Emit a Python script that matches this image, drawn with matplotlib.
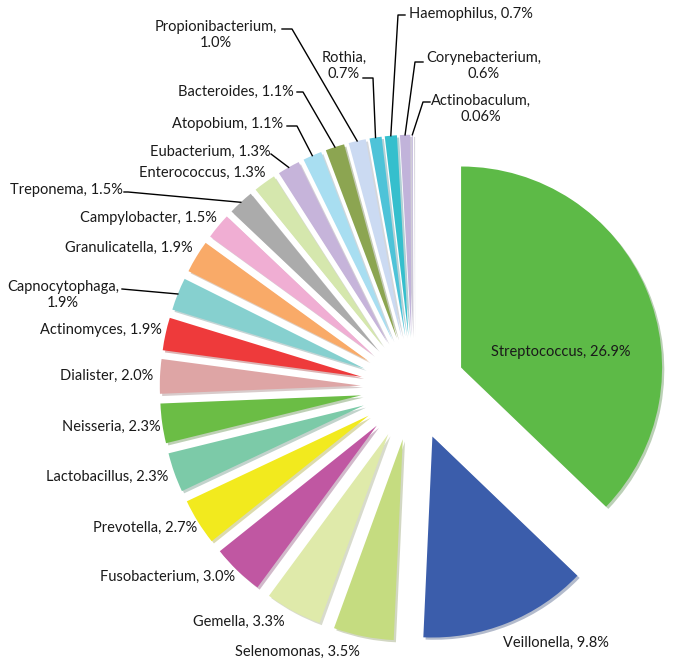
import numpy as np
import matplotlib.pyplot as plt

names = ['Streptococcus', 'Veillonella', 'Selenomonas', 'Gemella', 'Fusobacterium',
         'Prevotella', 'Lactobacillus', 'Neisseria', 'Dialister', 'Actinomyces',
         'Capnocytophaga', 'Granulicatella', 'Campylobacter', 'Treponema',
         'Enterococcus', 'Eubacterium', 'Atopobium', 'Bacteroides',
         'Propionibacterium', 'Rothia', 'Haemophilus', 'Corynebacterium',
         'Actinobaculum']
values = [26.9, 9.8, 3.5, 3.3, 3.0, 2.7, 2.3, 2.3, 2.0, 1.9, 1.9, 1.9, 1.5, 1.5,
          1.3, 1.3, 1.1, 1.1, 1.0, 0.7, 0.7, 0.6, 0.06]
value_text = ['26.9%', '9.8%', '3.5%', '3.3%', '3.0%', '2.7%', '2.3%', '2.3%', '2.0%',
              '1.9%', '1.9%', '1.9%', '1.5%', '1.5%', '1.3%', '1.3%', '1.1%', '1.1%',
              '1.0%', '0.7%', '0.7%', '0.6%', '0.06%']
colors = ['#5dba47', '#3b5dab', '#c5dc80', '#dfeaaa', '#c057a2', '#f2ea1e', '#7ccaa8',
          '#6bbd45', '#dea5a5', '#ee3a3b', '#86d0cf', '#f9aa68', '#f0aed3', '#ababab',
          '#d5e7ad', '#c6b4da', '#a8def1', '#8ca551', '#cbdaf2', '#4ec3d8', '#35bfcd',
          '#c1b3da', '#c8bde0']

# layout (image pixels): pie centre, radius, label placement
W, H = 675, 667
CX, CY, R = 413, 388, 201


def px(x, y):
    return (x - CX) / R, (CY - y) / R


# name: (x, y, two_lines)
label_pos = {
    'Streptococcus': (561, 352, False), 'Veillonella': (556, 643, False),
    'Selenomonas': (297, 652, False), 'Gemella': (239, 622, False),
    'Fusobacterium': (168, 577, False), 'Prevotella': (145, 528, False),
    'Lactobacillus': (107, 477, False), 'Neisseria': (111, 427, False),
    'Dialister': (107, 376, False), 'Actinomyces': (101, 330, False),
    'Capnocytophaga': (63, 295, True), 'Granulicatella': (129, 248, False),
    'Campylobacter': (148, 218, False), 'Treponema': (66, 190, False),
    'Enterococcus': (202, 173, False), 'Eubacterium': (210, 152, False),
    'Atopobium': (228, 124, False), 'Bacteroides': (236, 92, False),
    'Propionibacterium': (216, 35, True), 'Rothia': (344, 66, True),
    'Haemophilus': (471, 14, False), 'Corynebacterium': (484, 66, True),
    'Actinobaculum': (481, 109, True),
}
# leader lines: start point(s) near the text, then end on the wedge edge
leaders = {
    'Capnocytophaga': [(122, 289)],
    'Treponema': [(124, 192), (128, 192)],
    'Eubacterium': [(271, 154)],
    'Atopobium': [(287, 126), (297, 126)],
    'Bacteroides': [(297, 92), (303, 92)],
    'Propionibacterium': [(282, 29), (292, 29)],
    'Rothia': [(363, 78), (373, 78)],
    'Haemophilus': [(405, 15), (398, 15)],
    'Corynebacterium': [(423, 62), (415, 62)],
    'Actinobaculum': [(430, 102), (423, 102)],
}

plt.rcParams['font.family'] = ['Lato', 'DejaVu Sans']

fig = plt.figure(figsize=(W / 100, H / 100), dpi=100)
ax = fig.add_axes([0, 0, 1, 1])
explode = [0.26] * len(values)
wedges, _ = ax.pie(values, colors=colors, explode=explode, startangle=90,
                   counterclock=False, radius=1.0,
                   wedgeprops=dict(linewidth=0),
                   shadow=dict(ox=0.008, oy=-0.008, shade=0.35, alpha=0.35))
ax.set_xlim(px(0, 0)[0], px(W, 0)[0])
ax.set_ylim(px(0, H)[1], px(0, 0)[1])
ax.axis('off')

for w, name, vt in zip(wedges, names, value_text):
    x, y, two = label_pos[name]
    txt = f'{name},\n{vt}' if two else f'{name}, {vt}'
    tx, ty = px(x, y)
    ax.text(tx, ty, txt, ha='center', va='center', fontsize=10.5,
            color='#1a1a1a', linespacing=1.25, zorder=5)
    if name in leaders:
        th = np.deg2rad((w.theta1 + w.theta2) / 2)
        ex = w.center[0] + w.r * np.cos(th)
        ey = w.center[1] + w.r * np.sin(th)
        pts = [px(a, b) for a, b in leaders[name]] + [(ex, ey)]
        xs, ys = zip(*pts)
        ax.plot(xs, ys, color='black', lw=1.0, zorder=4)

fig.savefig('out.png', dpi=100)
